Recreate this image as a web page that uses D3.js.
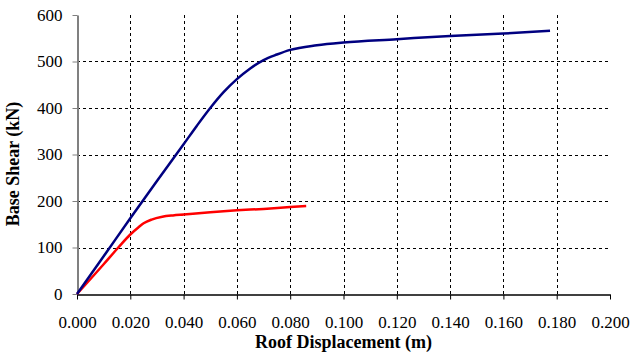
<!DOCTYPE html>
<html>
<head>
<meta charset="utf-8">
<script src="https://cdn.jsdelivr.net/npm/d3@7"></script>
<style>
  body { margin: 0; background: #fff; }
</style>
</head>
<body>
<div id="chart"></div>
<script>
// pushover curves
const blueDisp = [0, 0.010, 0.020, 0.030, 0.040, 0.045, 0.050, 0.055, 0.060, 0.065, 0.070, 0.075, 0.080, 0.090, 0.100, 0.120, 0.140, 0.160, 0.1775];
const blueShear = [0, 81, 163, 243, 322, 362, 400, 434, 462, 485, 503, 515, 525, 535, 541, 548, 555, 560, 566];

const redDisp = [0, 0.010, 0.0155, 0.020, 0.023, 0.025, 0.028, 0.032, 0.036, 0.040, 0.050, 0.060, 0.070, 0.080, 0.086];
const redShear = [0, 64, 100, 128, 143, 152, 160, 166, 169, 171, 176, 180, 183, 187, 189];

const xTicks = [0, 0.02, 0.04, 0.06, 0.08, 0.10, 0.12, 0.14, 0.16, 0.18, 0.20];
const yTicks = [0, 100, 200, 300, 400, 500, 600];

const serif = "'Liberation Serif', 'Times New Roman', Times, 'DejaVu Serif', serif";

const width = 632;
const height = 361;
const margin = { top: 15, right: 22, bottom: 67, left: 77 };

const x = d3.scaleLinear()
    .domain([0, 0.2])
    .range([margin.left, width - margin.right]);

const y = d3.scaleLinear()
    .domain([0, 600])
    .range([height - margin.bottom, margin.top]);

const svg = d3.select('#chart')
    .append('svg')
    .attr('width', width)
    .attr('height', height);

// dashed grid
svg.append('g')
    .selectAll('line')
    .data(xTicks.filter(d => d > 0 && d < 0.2))
    .enter()
    .append('line')
    .attr('x1', d => Math.round(x(d)) + 0.5)
    .attr('x2', d => Math.round(x(d)) + 0.5)
    .attr('y1', y(600))
    .attr('y2', y(0))
    .attr('stroke', '#000')
    .attr('stroke-dasharray', '3,3');

svg.append('g')
    .selectAll('line')
    .data(yTicks.filter(d => d > 0 && d < 600))
    .enter()
    .append('line')
    .attr('x1', x(0))
    .attr('x2', x(0.2))
    .attr('y1', d => Math.round(y(d)) + 0.5)
    .attr('y2', d => Math.round(y(d)) + 0.5)
    .attr('stroke', '#000')
    .attr('stroke-dasharray', '3,3');

// y axis (grey)
const yAxis = svg.append('g')
    .attr('transform', `translate(${Math.round(x(0)) + 0.5},0)`)
    .call(d3.axisLeft(y).tickValues(yTicks).tickSize(5).tickSizeOuter(0).tickPadding(10));
yAxis.select('.domain').attr('stroke', '#808080').attr('stroke-width', 2);
yAxis.selectAll('.tick line').attr('stroke', '#808080');
yAxis.selectAll('text')
    .style('font-family', serif)
    .style('font-size', '17px')
    .attr('fill', '#000');

// x axis (black)
const xAxis = svg.append('g')
    .attr('transform', `translate(0,${Math.round(y(0)) + 0.5})`)
    .call(d3.axisBottom(x).tickValues(xTicks).tickFormat(d3.format('.3f')).tickSize(5).tickSizeOuter(0).tickPadding(16));
xAxis.select('.domain').attr('stroke', '#000').attr('stroke-width', 1.5);
xAxis.selectAll('.tick line').attr('stroke', '#000');
xAxis.selectAll('text')
    .style('font-family', serif)
    .style('font-size', '17px')
    .attr('fill', '#000');

// curves
const line = d3.line()
    .x(d => x(d[0]))
    .y(d => y(d[1]))
    .curve(d3.curveMonotoneX);

svg.append('path')
    .datum(redDisp.map((d, i) => [d, redShear[i]]))
    .attr('d', line)
    .attr('fill', 'none')
    .attr('stroke', '#ff0000')
    .attr('stroke-width', 2.5);

svg.append('path')
    .datum(blueDisp.map((d, i) => [d, blueShear[i]]))
    .attr('d', line)
    .attr('fill', 'none')
    .attr('stroke', '#000080')
    .attr('stroke-width', 2.5);

// axis titles
svg.append('text')
    .attr('x', (x(0) + x(0.2)) / 2)
    .attr('y', 348)
    .attr('text-anchor', 'middle')
    .style('font-family', serif)
    .style('font-size', '18px')
    .style('font-weight', 'bold')
    .text('Roof Displacement (m)');

svg.append('text')
    .attr('transform', 'translate(19,164) rotate(-90)')
    .attr('text-anchor', 'middle')
    .style('font-family', serif)
    .style('font-size', '18px')
    .style('font-weight', 'bold')
    .text('Base Shear (kN)');
</script>
</body>
</html>
